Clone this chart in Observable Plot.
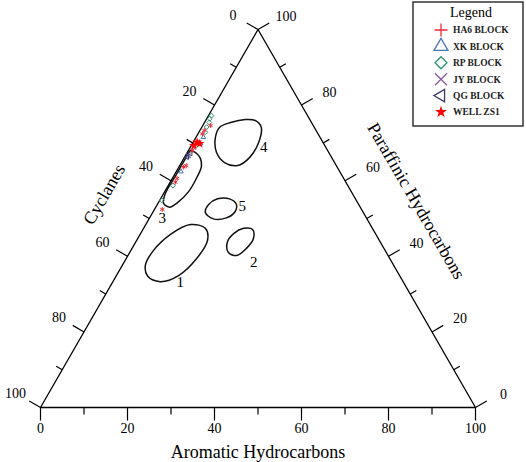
<!DOCTYPE html>
<html><head><meta charset="utf-8">
<script src="https://cdn.jsdelivr.net/npm/d3@7"></script>
<script src="https://cdn.jsdelivr.net/npm/@observablehq/plot@0.6"></script>
<style>
body{margin:0;background:#fff}
#wrap{position:relative;width:526px;height:462px;background:#fff}
</style>
</head><body><div id="wrap"></div>
<script>
// ---- data: [aromatic %, paraffinic %] (cyclanes = 100 - both) ----
const seriesNames = ["HA6 BLOCK","XK BLOCK","RP BLOCK","JY BLOCK","QG BLOCK","WELL ZS1"];
const seriesColors = ["#ee2a3a","#4a78b0","#2f9470","#8a5a9c","#3a3a6a","#ff0000"];
const ha6 = [[1.8,74.6],[1.0,73.3],[1.0,72.4],[0.9,68.0],[1.5,64.0],[1.1,63.6],[1.1,60.6],[1.2,59.6],[1.8,52.4]];
const xk  = [[1.7,71.5],[1.9,69.8],[0.8,66.4],[1.1,62.4]];
const rp  = [[0.7,77.2],[0.7,76.4],[1.1,75.4],[1.1,74.2],[1.5,72.8],[1.0,69.3],[1.1,58.7],[0.5,54.8]];
const jy  = [[0.85,68.7],[0.6,66.7]];
const qg  = [[0.9,67.2],[0.6,66.2]];
const zs1 = [[0.9,70.2],[1.7,69.8],[0.6,69.3]];

const region1 = [[10.3,48.4],[14.2,47.4],[16.3,44.2],[16.2,39.4],[14.3,34.9],[10.9,33.3],[7.3,34.7],[5.3,37.6],[5.2,41.5],[7.0,45.8]];
const region2 = [[23.0,47.4],[25.2,47.1],[26.6,44.7],[26.3,42.1],[25.0,40.2],[22.7,41.0],[21.1,43.7],[21.4,46.0]];
const region3 = [[0.5,68.0],[2.3,67.2],[3.8,65.9],[5.1,63.8],[5.5,61.1],[5.5,57.1],[4.4,54.2],[3.2,53.0],[1.3,54.0],[0.4,56.5],[0.4,61.5],[0.4,65.5]];
const region4 = [[6.0,75.4],[9.0,76.2],[11.5,75.9],[13.7,74.1],[15.1,70.1],[15.0,66.1],[13.3,64.0],[9.9,64.8],[6.7,67.5],[4.5,71.4],[4.1,74.1]];
const region5 = [[12.1,51.6],[11.8,53.7],[13.1,55.2],[15.85,55.2],[18.2,53.7],[18.8,51.6],[17.5,50.1],[14.8,49.9]];
const regionLabels = ["1","2","3","4","5"];
const labelAromatic = [15.6,29.8,3.0,16.9,19.8];
const labelParaffinic = [33.1,38.4,50.0,68.8,53.2];

const tickValues = [0,10,20,30,40,50,60,70,80,90,100];
const tickLabels = [0,20,40,60,80,100];
const axisTitles = ["Aromatic Hydrocarbons","Cyclanes","Paraffinic Hydrocarbons"];

// ---- ternary projection ----
const SQ = Math.sqrt(3)/2;
const X = (a,p) => a + p/2;
const Y = p => p*SQ;
const PX = 4.35; // px per unit (for tick lengths)

const corners = [[0,0],[100,0],[0,100],[0,0]];
const regions = [region1,region2,region3,region4,region5].flatMap((r,i)=>r.map(d=>({a:d[0],p:d[1],id:i})));

const triLeft = {draw(ctx,size){const s=Math.sqrt(size)*0.6824,t=s/2,u=s*Math.sqrt(3)/2;ctx.moveTo(-s,0);ctx.lineTo(t,-u);ctx.lineTo(t,u);ctx.closePath();}};
const plotSymbols = ["asterisk","triangle2","diamond2","times",triLeft,"star"];
const d3Symbols = [d3.symbolPlus,d3.symbolTriangle2,d3.symbolDiamond2,d3.symbolTimes,triLeft,d3.symbolStar];
const seriesData = [ha6,xk,rp,jy,qg,zs1];

function tickLen(v){ return (v%20===0 ? 13 : 7)/PX; }
const bottomTicks = tickValues.map(v=>({x1:v,y1:0,x2:v,y2:-tickLen(v)}));
const leftTicks = tickValues.map(c=>{const p=100-c;const x=X(0,p),y=Y(p),L=tickLen(c);return {x1:x,y1:y,x2:x-L*SQ,y2:y+L*0.5};});
const rightTicks = tickValues.map(p=>{const x=X(100-p,p),y=Y(p),L=tickLen(p);return {x1:x,y1:y,x2:x+L*SQ,y2:y+L*0.5};});

const font = "'Liberation Serif','Times New Roman',serif";
const dotOrder = [2,1,3,4,0,5];

const plot = Plot.plot({
  width:526, height:462,
  x:{domain:[0,100], range:[40,475], axis:null},
  y:{domain:[0,100*SQ], range:[407,29], axis:null},
  style:{fontFamily:font, color:"black", background:"white"},
  marks:[
    Plot.line(corners,{x:d=>X(d[0],d[1]),y:d=>Y(d[1]),stroke:"black",strokeWidth:1.3}),
    Plot.link([...bottomTicks,...leftTicks,...rightTicks],{x1:"x1",y1:"y1",x2:"x2",y2:"y2",stroke:"black",strokeWidth:1.2}),
    Plot.text(tickLabels,{x:v=>v,y:0,text:d=>String(d),dy:21,fontSize:14,lineAnchor:"middle"}),
    Plot.text(tickLabels,{x:c=>X(0,100-c),y:c=>Y(100-c),text:d=>String(d),dx:-25,dy:-14,fontSize:14,lineAnchor:"middle"}),
    Plot.text(tickLabels,{x:p=>X(100-p,p),y:p=>Y(p),text:d=>String(d),dx:28,dy:-13,fontSize:14,lineAnchor:"middle"}),
    Plot.text([axisTitles[0]],{x:50,y:0,text:d=>d,dy:45,fontSize:18,lineAnchor:"middle"}),
    Plot.text([axisTitles[1]],{x:X(0,50),y:Y(50),text:d=>d,dx:-45,dy:-24,rotate:-60,fontSize:18,lineAnchor:"middle"}),
    Plot.text([axisTitles[2]],{x:X(52,48),y:Y(48),text:d=>d,dx:45,dy:-25,rotate:60,fontSize:18,lineAnchor:"middle"}),
    Plot.line(regions,{x:d=>X(d.a,d.p),y:d=>Y(d.p),z:"id",curve:"catmull-rom-closed",stroke:"#111",strokeWidth:1.5}),
    Plot.text(regionLabels,{x:(d,i)=>X(labelAromatic[i],labelParaffinic[i]),y:(d,i)=>Y(labelParaffinic[i]),text:d=>d,fontSize:15,lineAnchor:"middle"}),
    ...dotOrder.map(i=>Plot.dot(seriesData[i],{
      x:d=>X(d[0],d[1]), y:d=>Y(d[1]),
      symbol:plotSymbols[i],
      r: i===5 ? 3 : 2.2,
      stroke: i===5 ? "none" : seriesColors[i],
      fill: i===5 ? seriesColors[i] : "none",
      strokeWidth:1
    }))
  ]
});
document.getElementById("wrap").appendChild(plot);

// ---- legend ----
const leg = d3.select("#wrap").append("svg")
  .style("position","absolute").style("left","412px").style("top","1px")
  .attr("width",113).attr("height",127);
leg.append("rect").attr("x",1).attr("y",1).attr("width",110).attr("height",124)
  .attr("fill","white").attr("stroke","#333").attr("stroke-width",1.5);
leg.append("text").attr("x",59).attr("y",16).attr("text-anchor","middle")
  .attr("font-family",font).attr("font-size",14).text("Legend");
const symSizes = [57,140,92,96,110,45];
seriesNames.forEach((name,i)=>{
  const cy = 29 + i*16.4;
  leg.append("path").attr("transform",`translate(29,${cy})`)
    .attr("d",d3.symbol(d3Symbols[i],symSizes[i])())
    .attr("fill", i===5 ? seriesColors[i] : "none")
    .attr("stroke", i===5 ? "none" : seriesColors[i])
    .attr("stroke-width",1.3);
  leg.append("text").attr("x",41).attr("y",cy).attr("dy","0.35em")
    .attr("font-family",font).attr("font-size",9.5).attr("font-weight","bold")
    .attr("fill","#222").text(name);
});
</script>
</body></html>
